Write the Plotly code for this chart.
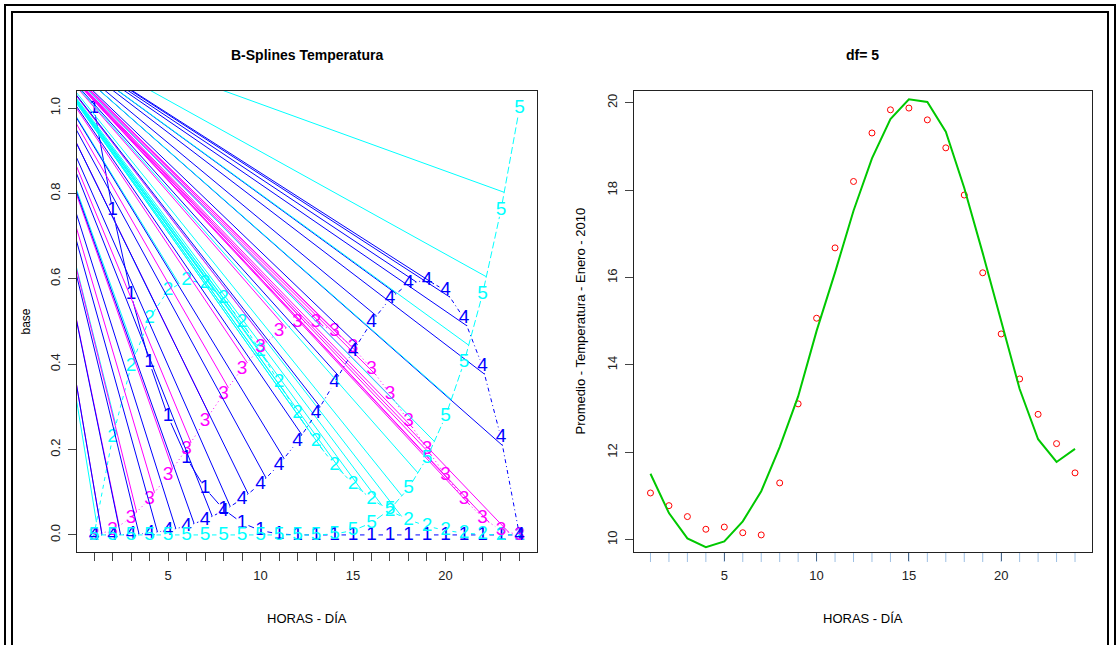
import math
import plotly.graph_objects as go

ANCHO, ALTO = 1120, 645
FUENTE = "Liberation Sans, Arial, Helvetica, sans-serif"

# ---------------- data ----------------
horas = list(range(1, 25))

# cubic B-spline basis (df = 5) evaluated at each hour
base_1 = [1.0000, 0.7612, 0.5637, 0.4038, 0.2774, 0.1806, 0.1094, 0.0599, 0.0282, 0.0103, 0.0022, 0.0001,
          0.0, 0.0, 0.0, 0.0, 0.0, 0.0, 0.0, 0.0, 0.0, 0.0, 0.0, 0.0]
base_2 = [0.0, 0.2280, 0.3948, 0.5074, 0.5727, 0.5975, 0.5888, 0.5535, 0.4984, 0.4305, 0.3567, 0.2839,
          0.2188, 0.1644, 0.1198, 0.0842, 0.0564, 0.0355, 0.0206, 0.0105, 0.0044, 0.0013, 0.0002, 0.0]
base_3 = [0.0, 0.0107, 0.0401, 0.0843, 0.1394, 0.2014, 0.2663, 0.3303, 0.3893, 0.4394, 0.4767, 0.4973,
          0.4973, 0.4767, 0.4394, 0.3893, 0.3303, 0.2663, 0.2014, 0.1394, 0.0843, 0.0401, 0.0107, 0.0]
base_4 = [0.0, 0.0002, 0.0013, 0.0044, 0.0105, 0.0206, 0.0355, 0.0564, 0.0842, 0.1198, 0.1644, 0.2188,
          0.2839, 0.3567, 0.4305, 0.4984, 0.5535, 0.5888, 0.5975, 0.5727, 0.5074, 0.3948, 0.2280, 0.0]
base_5 = [0.0, 0.0, 0.0, 0.0, 0.0, 0.0, 0.0, 0.0, 0.0, 0.0, 0.0, 0.0,
          0.0001, 0.0022, 0.0103, 0.0282, 0.0599, 0.1094, 0.1806, 0.2774, 0.4038, 0.5637, 0.7612, 1.0000]
bases = [base_1, base_2, base_3, base_4, base_5]
simbolos = ["1", "2", "3", "4", "5"]

# hourly mean temperature, January 2010, and the df = 5 spline fit
temp_promedio = [11.07, 10.78, 10.53, 10.24, 10.29, 10.16, 10.11, 11.30, 13.11, 15.07, 16.68, 18.20,
                 19.31, 19.84, 19.88, 19.61, 18.97, 17.89, 16.11, 14.71, 13.68, 12.87, 12.20, 11.53]
temp_ajuste = [11.51, 10.61, 10.03, 9.83, 9.96, 10.42, 11.11, 12.12, 13.28, 14.78, 16.12, 17.53,
               18.73, 19.63, 20.08, 20.02, 19.34, 18.05, 16.56, 15.00, 13.45, 12.30, 11.78, 12.08]

y_ticks_base = [0.0, 0.2, 0.4, 0.6, 0.8, 1.0]
y_ticks_temp = [10, 12, 14, 16, 18, 20]
x_ticks_lab = [5, 10, 15, 20]

# point (left-panel data units) where the device's stray strokes converge
origen_trazos = (-3.35, 1.219)

# ---------------- styles / geometry ----------------
colores = ["#0000FF", "#00FFFF", "#FF00FF", "#0000FF", "#00FFFF"]
patrones = ["solid", "4px,4px", "1px,3px", "1px,3px,4px,3px", "7px,3px"]
desfase = [None, 6.0, 1.0, 1.0, 11.0]   # px past the gap where each stray stroke ends

IZQ = (77.0, 536.5)      # left plot region, px
DER = (633.5, 1092.0)    # right plot region, px
VERT = (91.0, 552.0)     # top / bottom of both plot regions, px
HUECO = 7.0              # gap left around each plotted symbol, px


def rango_r(vals):
    lo, hi = min(vals), max(vals)
    d = 0.04 * (hi - lo)
    return [lo - d, hi + d]


rango_x = rango_r(horas)
rango_base = rango_r([0.0, 1.0])
rango_temp = rango_r(temp_promedio)

sx = (IZQ[1] - IZQ[0]) / (rango_x[1] - rango_x[0])
sy = (VERT[1] - VERT[0]) / (rango_base[1] - rango_base[0])


def px_x(p):
    return p / ANCHO


def px_y(p):
    return 1 - p / ALTO


def tramos(ys, extra):
    sx_, sy_, ax_, ay_ = [], [], [], []
    for i in range(len(horas) - 1):
        x0, y0, x1, y1 = horas[i], ys[i], horas[i + 1], ys[i + 1]
        L = math.hypot((x1 - x0) * sx, (y1 - y0) * sy)
        if L <= 2 * HUECO:
            continue
        f = HUECO / L
        sx_ += [x0 + f * (x1 - x0), x1 - f * (x1 - x0), None]
        sy_ += [y0 + f * (y1 - y0), y1 - f * (y1 - y0), None]
        if extra is not None:
            d = HUECO + extra
            if d < L - HUECO:
                t = d / L
                ax_ += [origen_trazos[0], x0 + t * (x1 - x0), None]
                ay_ += [origen_trazos[1], y0 + t * (y1 - y0), None]
    return sx_, sy_, ax_, ay_


fig = go.Figure()

# ---------------- left panel: basis functions ----------------
for j, ys in enumerate(bases):
    seg_x, seg_y, art_x, art_y = tramos(ys, desfase[j])
    fig.add_trace(go.Scatter(x=seg_x, y=seg_y, mode="lines", xaxis="x", yaxis="y",
                             line=dict(color=colores[j], width=1, dash=patrones[j]),
                             hoverinfo="skip", showlegend=False))
    if art_x:
        fig.add_trace(go.Scatter(x=art_x, y=art_y, mode="lines", xaxis="x", yaxis="y",
                                 line=dict(color=colores[j], width=1),
                                 hoverinfo="skip", showlegend=False))
    fig.add_trace(go.Scatter(x=horas, y=ys, mode="text", xaxis="x", yaxis="y",
                             text=[simbolos[j]] * len(horas), textposition="middle center",
                             textfont=dict(family=FUENTE, size=19, color=colores[j]),
                             showlegend=False))

# ---------------- right panel: data and fit ----------------
fig.add_trace(go.Scatter(x=horas, y=temp_promedio, mode="markers", xaxis="x2", yaxis="y2",
                         marker=dict(symbol="circle-open", size=6, color="#FF0000",
                                     line=dict(width=1, color="#FF0000")),
                         showlegend=False))
fig.add_trace(go.Scatter(x=horas, y=temp_ajuste, mode="lines", xaxis="x2", yaxis="y2",
                         line=dict(color="#00C800", width=2), showlegend=False))

eje_comun = dict(showline=True, mirror=True, linecolor="#222222", linewidth=1,
                 showgrid=False, zeroline=False, ticks="outside", ticklen=8,
                 tickcolor="#444444", tickwidth=1,
                 tickfont=dict(family=FUENTE, size=13, color="#222222"))

fig.update_layout(
    width=ANCHO, height=ALTO,
    margin=dict(l=0, r=0, t=0, b=0),
    paper_bgcolor="white", plot_bgcolor="white",
    showlegend=False,
    xaxis=dict(eje_comun, domain=[px_x(IZQ[0]), px_x(IZQ[1])], range=rango_x,
               tickvals=horas, ticktext=[str(h) if h in x_ticks_lab else "" for h in horas],
               ticklabelstandoff=3, anchor="y"),
    yaxis=dict(eje_comun, domain=[px_y(VERT[1]), px_y(VERT[0])], range=rango_base,
               tickvals=y_ticks_base, ticktext=[f"{v:.1f}" for v in y_ticks_base],
               tickangle=-90, ticklabelstandoff=3, anchor="x"),
    xaxis2=dict(eje_comun, domain=[px_x(DER[0]), px_x(DER[1])], range=rango_x,
                tickvals=x_ticks_lab, tickcolor="#4a6688", ticklabelstandoff=3, anchor="y2"),
    yaxis2=dict(eje_comun, domain=[px_y(VERT[1]), px_y(VERT[0])], range=rango_temp,
                tickvals=y_ticks_temp, tickangle=-90, ticklabelstandoff=2, anchor="x2"),
)

# hour rug under the right panel
formas = []
for h in horas:
    formas.append(dict(type="line", xref="x2", yref="paper", x0=h, x1=h,
                       y0=px_y(VERT[1] + 1), y1=px_y(VERT[1] + 10), layer="below",
                       line=dict(color="#9dbfe3", width=1)))

# double frame round the figure
for m, w in [(5, 2), (12, 2)]:
    formas.append(dict(type="rect", xref="paper", yref="paper",
                       x0=px_x(m), x1=px_x(ANCHO - m), y0=px_y(ALTO + 20), y1=px_y(m),
                       line=dict(color="black", width=w), fillcolor="rgba(0,0,0,0)"))
fig.update_layout(shapes=formas)

centro_izq = px_x((IZQ[0] + IZQ[1]) / 2)
centro_der = px_x((DER[0] + DER[1]) / 2)
centro_v = px_y((VERT[0] + VERT[1]) / 2)

notas = [
    dict(text="<b>B-Splines Temperatura</b>", x=centro_izq, y=px_y(55), font=dict(size=14)),
    dict(text="<b>df= 5</b>", x=centro_der, y=px_y(55), font=dict(size=14)),
    dict(text="HORAS - DÍA", x=centro_izq, y=px_y(618), font=dict(size=13)),
    dict(text="HORAS - DÍA", x=centro_der, y=px_y(618), font=dict(size=13)),
    dict(text="base", x=px_x(25), y=centro_v, textangle=-90, font=dict(size=12)),
    dict(text="Promedio - Temperatura - Enero - 2010", x=px_x(580), y=centro_v,
         textangle=-90, font=dict(size=13)),
]
for n in notas:
    n.update(xref="paper", yref="paper", showarrow=False, xanchor="center", yanchor="middle")
    n["font"].update(family=FUENTE, color="black")
fig.update_layout(annotations=notas)

fig.write_html("out.html")
